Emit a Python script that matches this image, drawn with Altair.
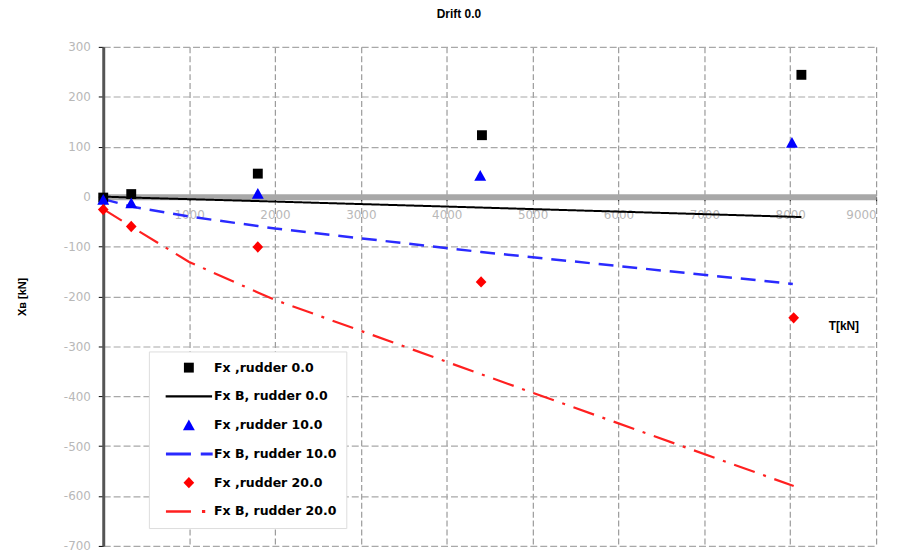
import altair as alt
import pandas as pd

# ---- data ----
legend_order = ["Fx ,rudder 0.0", "Fx B, rudder 0.0",
                "Fx ,rudder 10.0", "Fx B, rudder 10.0",
                "Fx ,rudder 20.0", "Fx B, rudder 20.0"]

# measured points (Fx)
t_r0 = [0, 326, 1800, 4410, 8130]
fx_r0 = [-2, 5, 46, 123, 244]
t_r10 = [0, 326, 1800, 4390, 8020]
fx_r10 = [-6, -13, 6, 42, 108]
t_r20 = [0, 326, 1800, 4400, 8040]
fx_r20 = [-26, -60, -101, -171, -243]

# fitted lines (Fx B)
tb_r0 = [0, 326, 1800, 4400, 8130]
fxb_r0 = [0, -2, -9, -22, -41]
tb_r10 = [0, 326, 1000, 1800, 2000, 4400, 8030]
fxb_r10 = [-5, -20, -40, -59, -64, -111, -175]
tb_r20 = [0, 326, 1000, 1800, 2000, 4400, 8040]
fxb_r20 = [-25, -60, -131, -192, -207, -356, -580]

x_ticks = [1000, 2000, 3000, 4000, 5000, 6000, 7000, 8000, 9000]
y_ticks = [-700, -600, -500, -400, -300, -200, -100, 0, 100, 200, 300]

# ---- tables ----
pts = pd.concat([
    pd.DataFrame({"T": t_r0, "Fx": fx_r0, "series": legend_order[0]}),
    pd.DataFrame({"T": t_r10, "Fx": fx_r10, "series": legend_order[2]}),
    pd.DataFrame({"T": t_r20, "Fx": fx_r20, "series": legend_order[4]}),
])
lines = pd.concat([
    pd.DataFrame({"T": tb_r0, "Fx": fxb_r0, "series": legend_order[1]}),
    pd.DataFrame({"T": tb_r10, "Fx": fxb_r10, "series": legend_order[3]}),
    pd.DataFrame({"T": tb_r20, "Fx": fxb_r20, "series": legend_order[5]}),
])

FONT = "Liberation Sans"
LFONT = "DejaVu Sans"
colors = ["#000000", "#000000", "#0000ff", "#2a2aff", "#ff0000", "#ff2020"]
shapes = [
    "M-0.83,-0.83H0.83V0.83H-0.83Z",
    "M-3.9,-0.2H3.9V0.2H-3.9Z",
    "M0,-0.95L1,0.85L-1,0.85Z",
    "M-3.85,-0.25H0.35V0.25H-3.85Z M2,-0.25H4V0.25H2Z",
    "M0,-0.95L0.9,0L0,0.95L-0.9,0Z",
    "M-3.85,-0.22H0.35V0.22H-3.85Z M2.2,-0.25H2.75V0.25H2.2Z",
]

legend = alt.Legend(
    title=None, orient="none", legendX=46, legendY=307, padding=10,
    symbolOffset=24, labelOffset=19, rowPadding=16, symbolSize=144,
    symbolStrokeWidth=0, labelFont=LFONT, labelFontSize=12.6,
    labelFontWeight="bold", labelColor="#000000", labelLimit=0,
    strokeColor="#dddddd", fillColor="#ffffff",
)

num_label = "replace(datum.label, '\u2212', '-')"

x_axis = alt.Axis(
    values=x_ticks, format="d", labelExpr=num_label,
    offset=-352, title="T[kN]", titleX=746, titleY=130,
    titleBaseline="middle", titleFont=FONT, titleFontSize=12,
    titleFontWeight="bold", titleColor="#000000",
    labelColor="#b8b8b8", labelFont=LFONT, labelFontSize=12, labelPadding=9,
    tickColor="#000000", tickSize=4, tickWidth=1,
    domainColor="#a8a8a8", domainWidth=6,
    gridColor="#9a9a9a", gridDash=[6, 3], gridWidth=1.2,
)
y_axis = alt.Axis(
    values=y_ticks, format="d", labelExpr=num_label,
    title="Xʙ [kN]", titleFont=FONT, titleFontSize=11,
    titleFontWeight="bold", titleColor="#000000", titlePadding=36,
    labelColor="#b8b8b8", labelFont=LFONT, labelFontSize=12, labelPadding=8,
    tickColor="#000000", tickSize=5, tickWidth=1,
    domainColor="#555555", domainWidth=3,
    gridColor="#a8a8a8", gridDash=[7, 3], gridWidth=1.2,
)

xs = alt.Scale(domain=[0, 9000], nice=False, zero=False)
ys = alt.Scale(domain=[-700, 300], nice=False, zero=False)

points = alt.Chart(pts).mark_point(filled=True, opacity=1, size=144, strokeWidth=0).encode(
    x=alt.X("T:Q", scale=xs, axis=x_axis),
    y=alt.Y("Fx:Q", scale=ys, axis=y_axis),
    color=alt.Color("series:N", scale=alt.Scale(domain=legend_order, range=colors), legend=legend),
    shape=alt.Shape("series:N", scale=alt.Scale(domain=legend_order, range=shapes), legend=legend),
)

def line_layer(name, color, dash, width):
    return alt.Chart(lines).transform_filter(
        alt.datum.series == name
    ).mark_line(color=color, strokeDash=dash, strokeWidth=width).encode(
        x=alt.X("T:Q", scale=xs),
        y=alt.Y("Fx:Q", scale=ys),
        order="T:Q",
    )

l0 = line_layer(legend_order[1], "#000000", [1, 0], 2)
l10 = line_layer(legend_order[3], "#2a2aff", [15, 9], 2.5)
l20 = line_layer(legend_order[5], "#ff2020", [22, 9, 3, 9], 2.2)

chart = alt.layer(l0, l10, l20, points).properties(
    width=779, height=503,
    autosize=alt.AutoSizeParams(type="none"),
    padding={"left": 96, "top": 37, "right": 14, "bottom": 10},
    title=alt.TitleParams("Drift 0.0", font=FONT, fontSize=12, fontWeight="bold",
                          color="#000000", dx=-31, offset=20),
).configure_view(stroke=None)

chart.save("out.html", embed_options={"renderer": "svg", "actions": False})
